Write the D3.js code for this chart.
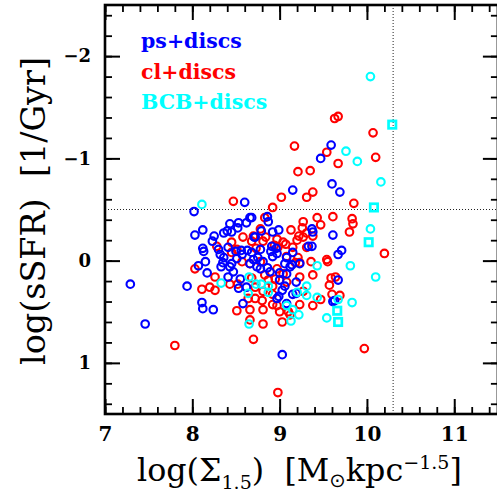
<!DOCTYPE html>
<html><head><meta charset="utf-8">
<script src="https://cdn.jsdelivr.net/npm/d3@7"></script>
<style>body{margin:0;background:#fff} svg{display:block}</style>
</head><body>
<script>
// ---- data ----
const psX = [7.29,7.46,7.94,8.02,8.03,8.12,8.23,8.25,8.36,8.40, 8.43,8.52,8.53,8.62,8.66,8.60,8.12,8.13,8.30,8.32, 8.41,8.36,8.50,8.56,8.63,8.15,8.07,8.35,8.45,8.70, 8.75,8.81,8.90,8.97,8.51,8.71,8.79,8.86,8.87,8.92, 8.99,8.68,8.72,9.15,9.60,9.69,9.59,9.47,9.37,9.38, 9.61,9.33,9.37,9.71,9.67,8.91,8.96,8.92,9.15,9.08, 9.06,9.14,9.23,9.08,9.19,9.67,9.03,9.19,8.99,9.08, 9.63,9.03,8.11,8.12,8.24,8.17,8.33,8.43,8.41,8.47, 8.55,8.53,8.62,8.58,8.78,8.89,8.97,8.66,8.74,8.86, 9.00,9.12,9.00,9.15,8.57,8.68,8.78,8.45,9.06,9.61];
const psY = [0.23,0.62,0.25,-0.48,-0.25,-0.30,-0.19,-0.24,-0.27,-0.29, -0.36,-0.32,-0.37,-0.37,-0.42,-0.57,-0.12,-0.09,-0.11,-0.06, -0.13,-0.03,-0.09,-0.10,-0.10,0.01,0.05,0.02,0.03,-0.01, -0.03,0.01,-0.09,-0.07,-0.02,-0.23,-0.29,-0.43,-0.38,-0.28, -0.30,-0.42,-0.23,-0.69,-0.75,-0.67,-1.13,-1.00,-0.31,-0.28, -0.25,-0.14,-0.14,-0.10,-0.06,-0.14,-0.12,-0.04,-0.08,-0.03, 0.03,0.04,0.03,0.13,0.21,0.19,0.29,0.32,0.35,0.42, 0.39,0.92,0.41,0.47,0.48,0.12,0.06,0.06,0.16,0.11, 0.18,0.27,0.26,0.42,0.08,0.11,0.37,0.03,0.06,0.07, 0.12,0.06,0.19,0.33,-0.06,-0.08,-0.11,-0.28,0.25,0.40];

const clX = [8.47,9.02,8.92,9.31,9.38,9.17,9.21,9.35,9.54,9.67, 9.63,9.67,10.07,10.10,9.85,8.83,8.78,8.84,8.58,8.70, 8.45,8.51,8.73,8.66,8.57,8.94,8.03,9.61,9.43,9.27, 9.13,9.83,9.84,9.80,9.47,9.26,9.31,9.27,9.22,9.20, 9.38,9.31,8.98,9.07,10.20,9.54,9.23,9.36,8.97,9.04, 8.95,9.08,9.23,9.38,9.59,9.64,9.57,9.60,9.55,9.69, 9.47,9.38,8.97,8.92,9.03,9.97,9.10,9.27,8.98,8.81, 8.70,9.21,9.23,7.80,8.11,8.20,8.26,8.51,8.26,8.43, 8.64,8.72,8.80,8.83,8.87,8.68,8.81,8.97,8.28,8.45, 8.78,9.08,9.18,8.52,8.68,8.72,8.81,8.92,8.66,8.81, 8.92,9.00,9.12,9.04,9.15,8.66];
const clY = [-0.58,-0.62,-0.52,-0.62,-0.67,-1.12,-0.87,-0.88,-1.06,-0.95, -1.39,-1.41,-1.25,-1.01,-0.56,-0.42,-0.31,-0.23,-0.23,-0.24, -0.18,-0.11,-0.12,0.03,0.01,-0.15,0.08,-0.43,-0.42,-0.38, -0.30,-0.41,-0.36,-0.28,-0.35,-0.32,-0.27,-0.23,-0.24,-0.20, -0.24,-0.13,-0.13,-0.16,-0.07,-0.01,0.02,0.01,0.08,0.13, 0.18,0.21,0.16,0.14,0.17,0.16,0.24,0.33,0.01,0.34, 0.38,0.44,0.44,0.33,0.60,0.86,0.50,0.30,1.29,0.62, 0.77,-0.03,0.43,0.83,0.28,0.26,0.29,0.49,0.16,0.23, 0.37,0.37,0.39,0.14,0.19,-0.19,-0.19,-0.21,-0.14,-0.08, 0.01,-0.04,0.02,0.23,0.17,0.26,0.30,0.25,0.48,0.48, 0.43,0.50,0.53,-0.18,-0.13,0.58];

const bcbX = [8.11,10.04,9.76,9.89,10.16,10.04,8.33,8.65,8.73,8.79, 8.64,8.87,8.87,8.65,9.08,9.15,9.22,9.13,9.31,9.31, 9.43,9.43,9.81,10.10,9.83,9.54,9.20,9.67];
const bcbY = [-0.55,-1.80,-1.07,-0.97,-0.77,-0.31,0.22,0.16,0.23,0.23, 0.32,0.25,0.31,0.62,0.44,0.48,0.53,0.59,0.25,0.34, 0.36,0.05,0.05,0.16,0.41,0.56,0.31,0.38];
const bcbSqX = [10.29,10.08,10.02,9.66,9.67];
const bcbSqY = [-1.33,-0.52,-0.18,0.49,0.60];

const xMajorTicks = [7,8,9,10,11];
const yMajorTicks = [-2,-1,0,1];
const legendLabels = ["ps+discs","cl+discs","BCB+discs"];
const legendColors = ["#0000ff","#ff0000","#00ffff"];
const refX = 10.3, refY = -0.5;

// ---- layout ----
const W = 497, H = 496;
const L = 105, R = 497.9, T = 5, B = 414;
const svg = d3.select("body").append("svg").attr("width", W).attr("height", H)
  .style("background", "#fff");
const x = d3.scaleLinear().domain([7, 11.5]).range([L, R]);
const y = d3.scaleLinear().domain([-2.5, 1.5]).range([T, B]);
const serif = "'DejaVu Serif', 'Liberation Serif', serif";

const xMinor = d3.range(7, 11.501, 0.2).map(v => +v.toFixed(2));
const yMinor = d3.range(-2.4, 1.401, 0.2).map(v => +v.toFixed(2));

// reference dotted lines
svg.append("line").attr("x1", x(refX)).attr("x2", x(refX)).attr("y1", T).attr("y2", B)
  .attr("stroke", "#222").attr("stroke-width", 1).attr("stroke-dasharray", "1,2");
svg.append("line").attr("x1", L).attr("x2", R).attr("y1", y(refY)).attr("y2", y(refY))
  .attr("stroke", "#222").attr("stroke-width", 1).attr("stroke-dasharray", "1,2");

// points
function circles(xs, ys, color) {
  svg.append("g").selectAll("circle").data(xs.map((v, i) => [v, ys[i]])).join("circle")
    .attr("cx", d => x(d[0])).attr("cy", d => y(d[1])).attr("r", 3.8)
    .attr("fill", "none").attr("stroke", color).attr("stroke-width", 2.1);
}
circles(clX, clY, legendColors[1]);
circles(psX, psY, legendColors[0]);
circles(bcbX, bcbY, legendColors[2]);
svg.append("g").selectAll("rect").data(bcbSqX.map((v, i) => [v, bcbSqY[i]])).join("rect")
  .attr("x", d => x(d[0]) - 3.7).attr("y", d => y(d[1]) - 3.7).attr("width", 7.4).attr("height", 7.4)
  .attr("fill", "none").attr("stroke", legendColors[2]).attr("stroke-width", 2.7);

// axes (inward ticks)
function styleAxis(g, w) {
  g.select(".domain").remove();
  g.selectAll(".tick line").attr("stroke", "#000").attr("stroke-width", w);
}
svg.append("g").attr("transform", `translate(0,${B})`)
  .call(d3.axisBottom(x).tickValues(xMinor).tickSize(-7).tickFormat(""))
  .call(g => styleAxis(g, 1.8));
svg.append("g").attr("transform", `translate(0,${B})`)
  .call(d3.axisBottom(x).tickValues(xMajorTicks).tickSize(-15).tickPadding(13).tickFormat(d3.format("d")))
  .call(g => { styleAxis(g, 2); g.selectAll("text").attr("font-family", serif).attr("font-size", 20).attr("font-weight", "bold").attr("fill", "#000"); });
svg.append("g").attr("transform", `translate(0,${T})`)
  .call(d3.axisTop(x).tickValues(xMinor).tickSize(-7).tickFormat("")).call(g => styleAxis(g, 1.8));
svg.append("g").attr("transform", `translate(0,${T})`)
  .call(d3.axisTop(x).tickValues(xMajorTicks).tickSize(-15).tickFormat("")).call(g => styleAxis(g, 2));

svg.append("g").attr("transform", `translate(${L},0)`)
  .call(d3.axisLeft(y).tickValues(yMinor).tickSize(-7).tickFormat("")).call(g => styleAxis(g, 1.8));
svg.append("g").attr("transform", `translate(${L},0)`)
  .call(d3.axisLeft(y).tickValues(yMajorTicks).tickSize(-15).tickPadding(14).tickFormat(d3.format("d")))
  .call(g => { styleAxis(g, 2); g.selectAll("text").attr("font-family", serif).attr("font-size", 18).attr("font-weight", "bold").attr("fill", "#000"); });
svg.append("g").attr("transform", `translate(${R},0)`)
  .call(d3.axisRight(y).tickValues(yMinor).tickSize(-7).tickFormat("")).call(g => styleAxis(g, 1.8));
svg.append("g").attr("transform", `translate(${R},0)`)
  .call(d3.axisRight(y).tickValues(yMajorTicks).tickSize(-15).tickFormat("")).call(g => styleAxis(g, 2));

// frame
svg.append("rect").attr("x", L).attr("y", T).attr("width", R - L).attr("height", B - T)
  .attr("fill", "none").attr("stroke", "#000").attr("stroke-width", 2.6);

// legend
legendLabels.forEach((t, i) => {
  svg.append("text").attr("x", 141).attr("y", 48 + i * 30.5).text(t)
    .attr("font-family", serif).attr("font-weight", "bold").attr("font-size", 20.5)
    .attr("fill", legendColors[i]);
});

// x title
const xt = svg.append("text").attr("x", 137).attr("y", 481).attr("font-family", serif).attr("fill", "#000");
function buildXT(S) {
  xt.selectAll("*").remove();
  xt.attr("font-size", S);
  xt.append("tspan").text("log(\u03A3");
  xt.append("tspan").attr("font-size", S * 0.6).attr("dy", S * 0.25).text("1.5");
  xt.append("tspan").attr("dy", -S * 0.25).text(")\u00A0 [M");
  xt.append("tspan").attr("font-size", S * 0.62).attr("dy", S * 0.2).attr("font-family", "'DejaVu Sans'").text("\u2299");
  xt.append("tspan").attr("dy", -S * 0.2).text("kpc");
  xt.append("tspan").attr("font-size", S * 0.6).attr("dy", -S * 0.38).text("\u22121.5");
  xt.append("tspan").attr("dy", S * 0.38).text("]");
}
buildXT(28);
let len = xt.node().getComputedTextLength();
buildXT(28 * 325 / len);

// y title
const yt = svg.append("text").attr("transform", "translate(45,211) rotate(-90)")
  .attr("text-anchor", "middle").attr("font-family", serif).attr("fill", "#000")
  .attr("font-size", 28).text("log(sSFR)\u00A0 [1/Gyr]");
len = yt.node().getComputedTextLength();
yt.attr("font-size", 28 * 308 / len);
</script>
</body></html>
